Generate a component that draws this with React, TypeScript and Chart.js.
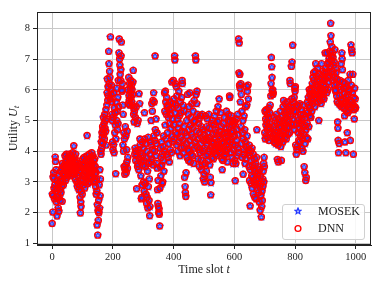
import React, { useEffect, useRef } from "react";
import { Chart, registerables } from "chart.js";

Chart.register(...registerables);

// Utility U_t per time slot, slots 0-99, 100-199, ...
const segA = [
  1.65, 2.6, 2.02, 3.16, 2.55, 3.3, 2.8, 3.1, 2.45, 2.9,
  3.81, 3.67, 2.7, 3.4, 2.35, 2.5, 1.89, 2.8, 3.05, 2.6,
  2.15, 2.9, 2.05, 2.5, 3.2, 2.75, 2.4, 3.0, 3.35, 2.65,
  3.1, 2.85, 3.45, 2.37, 3.6, 3.0, 3.25, 2.9, 3.5, 3.3,
  3.55, 3.2, 3.85, 3.4, 3.05, 3.65, 3.35, 3.9, 3.15, 3.5,
  3.7, 3.3, 3.45, 3.8, 3.6, 3.25, 3.55, 3.9, 3.4, 3.75,
  3.35, 3.65, 3.2, 3.85, 3.5, 3.3, 3.7, 3.45, 3.95, 3.6,
  3.25, 4.18, 3.55, 3.8, 3.4, 3.65, 3.1, 3.9, 3.35, 3.5,
  3.7, 3.0, 3.45, 2.85, 3.6, 3.2, 2.95, 3.5, 2.75, 3.3,
  2.9, 3.4, 2.5, 1.99, 2.34, 2.2, 2.7, 3.1, 3.55, 2.6,
];
const segB = [
  3.2, 3.75, 2.9, 3.5, 3.05, 3.8, 3.35, 2.8, 3.6, 3.15,
  3.45, 3.0, 3.7, 3.3, 3.85, 4.51, 3.25, 3.55, 2.95, 3.4,
  3.65, 3.1, 3.9, 3.35, 3.0, 3.75, 3.5, 3.2, 3.8, 3.45,
  3.95, 3.3, 3.6, 3.15, 3.85, 3.4, 3.7, 3.05, 3.55, 3.25,
  3.75, 3.0, 3.5, 2.85, 3.3, 2.6, 3.1, 2.7, 1.6, 2.26,
  1.27, 2.06, 1.75, 2.4, 2.0, 2.9, 2.15, 3.4, 2.55, 3.1,
  4.0, 3.9, 4.3, 4.1, 4.6, 4.45, 4.8, 4.25, 4.7, 5.1,
  4.55, 4.9, 4.4, 5.2, 4.75, 5.0, 4.65, 5.35, 4.2, 5.05,
  5.5, 5.9, 6.35, 5.65, 6.1, 5.8, 7.25, 6.85, 6.2, 6.6,
  6.4, 5.7, 7.72, 6.0, 5.85, 6.15, 5.6, 5.2, 5.0, 4.3,
];
const segC = [
  4.05, 5.1, 4.2, 5.9, 3.95, 5.4, 4.6, 5.25, 4.85, 3.27,
  4.4, 5.6, 5.0, 6.05, 5.3, 4.7, 5.75, 4.9, 6.3, 5.45,
  7.2, 7.65, 7.0, 6.8, 6.5, 6.3, 6.65, 7.1, 7.55, 6.0,
  5.95, 6.2, 5.5, 4.2, 5.2, 4.0, 4.6, 3.5, 4.4, 3.25,
  3.4, 4.8, 3.55, 4.5, 3.3, 4.05, 3.65, 4.65, 3.45, 3.8,
  6.0, 5.55, 6.4, 5.8, 5.65, 6.2, 5.5, 6.05, 5.9, 6.3,
  5.75, 6.15, 5.6, 6.0, 5.5, 5.85, 6.25, 6.63, 5.2, 5.4,
  4.95, 5.3, 3.9, 4.1, 5.1, 3.7, 4.0, 5.45, 2.78, 3.85,
  4.9, 3.5, 3.6, 5.0, 4.05, 3.4, 5.87, 3.75, 5.55, 4.4,
  4.2, 3.95, 3.2, 3.65, 2.45, 2.5, 2.9, 4.3, 3.85, 3.55,
];
const segD = [
  4.1, 3.0, 3.7, 2.7, 5.25, 4.4, 2.95, 3.5, 4.25, 2.6,
  3.8, 2.3, 4.0, 2.5, 3.35, 2.15, 4.45, 2.85, 3.6, 2.4,
  3.1, 1.9, 2.2, 3.9, 4.3, 3.65, 5.0, 4.2, 5.55, 3.75,
  5.3, 4.05, 5.65, 3.55, 5.9, 4.5, 5.6, 4.0, 4.35, 7.1,
  4.7, 3.85, 5.05, 4.25, 3.6, 4.6, 3.45, 2.75, 2.3, 3.05,
  2.2, 2.0, 2.12, 1.95, 1.57, 2.8, 3.5, 4.1, 3.2, 3.8,
  4.3, 3.55, 2.95, 3.9, 3.0, 4.15, 3.7, 4.5, 3.35, 4.0,
  5.9, 5.3, 4.85, 5.95, 5.6, 4.4, 5.2, 5.75, 3.9, 5.45,
  4.6, 5.5, 3.8, 5.1, 4.25, 5.35, 3.65, 4.9, 5.6, 4.05,
  5.2, 4.75, 5.4, 3.95, 6.25, 4.5, 5.05, 4.3, 5.55, 6.3,
];
const segE = [
  4.85, 5.7, 4.4, 7.1, 6.97, 5.25, 6.2, 4.6, 5.5, 6.1,
  4.2, 5.8, 4.55, 5.05, 4.0, 5.4, 4.75, 5.95, 4.3, 5.15,
  4.9, 3.85, 5.6, 4.45, 5.25, 4.1, 5.75, 4.65, 6.3, 6.2,
  4.35, 5.5, 3.95, 4.8, 5.3, 4.15, 3.15, 4.6, 2.85, 2.65,
  2.53, 3.3, 4.25, 5.0, 3.8, 4.5, 5.85, 4.05, 5.2, 3.7,
  4.7, 5.45, 4.0, 5.9, 4.35, 3.65, 4.85, 5.1, 3.9, 4.55,
  5.55, 4.2, 4.75, 3.85, 5.3, 4.45, 3.6, 4.95, 5.65, 4.1,
  5.0, 4.3, 7.1, 6.97, 5.85, 4.65, 5.55, 5.95, 4.15, 5.2,
  4.4, 3.75, 4.9, 4.05, 5.05, 3.5, 4.6, 3.95, 5.15, 4.25,
  3.7, 4.8, 3.4, 4.45, 5.2, 3.55, 4.0, 4.7, 3.1, 4.35,
];
const segF = [
  3.25, 4.55, 3.0, 4.1, 3.6, 5.15, 3.85, 4.4, 3.35, 4.8,
  4.2, 5.05, 3.9, 4.6, 3.7, 4.35, 5.2, 4.0, 4.75, 3.55,
  4.45, 3.15, 2.58, 2.98, 4.15, 4.9, 3.8, 4.3, 5.0, 4.05,
  4.55, 3.75, 4.25, 4.85, 4.0, 5.15, 4.4, 3.9, 4.7, 4.1,
  4.6, 5.3, 4.2, 3.85, 4.95, 4.3, 5.45, 4.05, 4.5, 5.0,
  5.7, 4.15, 4.65, 3.95, 4.4, 5.25, 4.0, 4.8, 4.25, 3.75,
  3.4, 4.55, 4.1, 3.7, 4.9, 4.3, 3.85, 4.6, 5.1, 4.0,
  4.45, 3.9, 4.75, 4.2, 5.3, 4.05, 4.6, 3.65, 4.35, 5.0,
  4.5, 5.2, 4.15, 4.8, 5.8, 5.75, 4.3, 4.95, 3.95, 4.6,
  5.15, 4.4, 3.8, 4.85, 4.2, 5.0, 3.6, 4.65, 4.05, 4.9,
];
const segG = [
  4.5, 3.7, 4.95, 3.04, 4.2, 3.6, 5.05, 4.35, 3.85, 4.7,
  4.1, 5.2, 4.55, 3.95, 7.65, 6.55, 7.52, 6.15, 6.5, 6.05,
  5.6, 6.2, 4.8, 5.85, 4.25, 5.3, 3.8, 4.6, 5.0, 3.25,
  4.4, 3.9, 5.15, 4.05, 4.7, 3.6, 4.3, 5.45, 3.75, 4.15,
  6.1, 5.5, 4.5, 5.95, 3.95, 6.15, 5.7, 4.05, 3.5, 4.2,
  3.05, 3.85, 2.22, 3.4, 4.0, 2.95, 3.7, 3.2, 4.1, 2.8,
  3.55, 3.15, 3.9, 2.6, 3.45, 3.0, 3.75, 2.5, 3.35, 2.9,
  3.6, 3.1, 2.45, 3.8, 4.7, 3.25, 2.75, 3.5, 2.95, 3.3,
  2.65, 3.05, 2.35, 3.4, 2.85, 2.08, 3.2, 2.55, 2.95, 1.86,
  2.2, 2.7, 2.4, 3.1, 2.85, 3.35, 3.6, 3.0, 3.8, 3.5,
];
const segH = [
  4.6, 5.3, 4.4, 5.05, 4.85, 5.35, 4.5, 4.95, 5.2, 4.7,
  4.45, 5.1, 4.8, 5.4, 4.35, 4.9, 5.25, 4.6, 5.5, 4.75,
  5.8, 6.2, 7.05, 6.75, 6.4, 5.95, 6.0, 5.85, 5.9, 4.55,
  4.8, 4.3, 5.1, 4.6, 4.4, 5.0, 4.25, 4.7, 4.5, 5.2,
  4.35, 4.9, 3.73, 4.6, 4.2, 3.65, 5.05, 4.45, 4.75, 4.3,
  4.95, 4.5, 5.3, 4.15, 4.8, 3.7, 4.4, 5.15, 4.65, 4.9,
  4.3, 5.45, 5.65, 4.7, 5.0, 4.45, 5.25, 4.85, 5.55, 4.6,
  5.1, 4.4, 5.35, 4.75, 5.6, 4.95, 5.2, 4.55, 5.45, 5.0,
  4.8, 5.3, 4.6, 6.3, 6.2, 5.15, 5.5, 4.9, 6.76, 5.7,
  6.9, 5.4, 7.45, 5.05, 5.6, 4.85, 5.3, 5.75, 4.7, 6.05,
];
const segI = [
  5.95, 6.1, 4.2, 5.3, 3.9, 4.9, 4.05, 5.5, 4.15, 5.1,
  4.6, 5.45, 4.35, 5.0, 4.75, 5.55, 4.3, 5.2, 4.5, 4.9,
  5.35, 4.65, 4.1, 5.05, 4.4, 5.5, 4.0, 4.8, 5.2, 4.55,
  3.5, 4.85, 3.3, 4.25, 5.1, 3.05, 4.7, 3.15, 4.45, 5.3,
  4.9, 5.6, 4.4, 5.25, 5.75, 4.8, 5.5, 6.0, 5.15, 5.85,
  5.4, 5.95, 5.1, 5.65, 6.05, 5.3, 5.8, 6.2, 5.55, 6.4,
  5.9, 6.55, 5.7, 6.3, 6.0, 5.45, 6.6, 5.85, 6.85, 6.15,
  5.75, 6.45, 5.95, 6.25, 5.6, 6.7, 5.85, 6.1, 5.0, 6.35,
  5.8, 6.5, 5.65, 6.05, 5.9, 6.2, 5.55, 6.85, 6.0, 5.75,
  6.4, 5.95, 6.6, 5.85, 6.15, 5.7, 6.3, 6.55, 6.0, 7.2,
];
const segJ = [
  6.35, 6.7, 6.1, 6.55, 5.9, 7.2, 6.4, 6.85, 6.0, 6.6,
  6.25, 6.9, 7.0, 6.45, 7.25, 6.75, 7.55, 8.16, 7.76, 7.1,
  6.95, 7.4, 6.6, 7.2, 6.3, 7.05, 6.5, 6.8, 6.15, 6.9,
  6.4, 7.3, 6.0, 6.7, 5.95, 6.55, 6.2, 5.8, 6.35, 5.6,
  4.95, 4.75, 4.35, 3.95, 5.55, 4.25, 6.1, 5.8, 6.3, 5.5,
  6.0, 5.65, 6.85, 5.45, 7.2, 7.0, 6.65, 5.7, 6.25, 5.55,
  6.05, 5.4, 5.9, 5.15, 4.3, 5.6, 6.2, 3.95, 5.75, 5.3,
  6.1, 5.5, 4.6, 5.85, 5.25, 6.3, 5.55, 5.95, 5.35, 6.0,
  5.65, 6.5, 4.35, 5.45, 7.46, 6.15, 7.3, 5.6, 7.2, 5.9,
  6.5, 5.5, 3.9, 5.75, 5.35, 5.05, 6.05, 5.45, 5.7, 5.4,
];

const mosekUtility = [...segA, ...segB, ...segC, ...segD, ...segE, ...segF, ...segG, ...segH, ...segI, ...segJ];
// The DNN tracks MOSEK so closely that the two are indistinguishable in the figure.
const dnnUtility = mosekUtility;

const xTicks = [0, 200, 400, 600, 800, 1000];
const yTicks = [1, 2, 3, 4, 5, 6, 7, 8];
const seriesNames = ["MOSEK", "DNN"];

const SERIF = '"Liberation Serif", "DejaVu Serif", serif';

function makeStar(color: string): HTMLCanvasElement {
  const c = document.createElement("canvas");
  c.width = 8;
  c.height = 8;
  const g = c.getContext("2d")!;
  const cx = 4, cy = 4.2, ro = 3.1, ri = 1.4;
  g.beginPath();
  for (let k = 0; k < 10; k++) {
    const r = k % 2 === 0 ? ro : ri;
    const a = -Math.PI / 2 + (k * Math.PI) / 5;
    const px = cx + r * Math.cos(a);
    const py = cy + r * Math.sin(a);
    if (k === 0) g.moveTo(px, py);
    else g.lineTo(px, py);
  }
  g.closePath();
  g.fillStyle = "rgba(60,90,255,0.35)";
  g.fill();
  g.strokeStyle = color;
  g.lineWidth = 1.2;
  g.stroke();
  return c;
}

export default function App() {
  const ref = useRef<HTMLCanvasElement | null>(null);

  useEffect(() => {
    document.body.style.margin = "0";
    const canvas = ref.current!;
    const star = makeStar("#2236ff");

    const frame = {
      id: "frameAndLabels",
      afterDraw(chart: any) {
        const { ctx, chartArea: a } = chart;
        ctx.save();
        ctx.strokeStyle = "#222";
        ctx.lineWidth = 1;
        ctx.strokeRect(Math.round(a.left) + 0.5, Math.round(a.top) + 0.5, Math.round(a.right - a.left) - 1, Math.round(a.bottom - a.top) - 1);

        // legend
        const bx = 282, by = 204, bw = 82, bh = 35;
        ctx.beginPath();
        (ctx as any).roundRect(bx + 0.5, by + 0.5, bw, bh, 2.5);
        ctx.fillStyle = "rgba(255,255,255,0.85)";
        ctx.fill();
        ctx.strokeStyle = "#d0d0d0";
        ctx.stroke();
        ctx.drawImage(star, 298 - 4, 211 - 4);
        ctx.beginPath();
        ctx.arc(298, 228.5, 2.9, 0, Math.PI * 2);
        ctx.strokeStyle = "#ff0000";
        ctx.lineWidth = 1.4;
        ctx.stroke();
        ctx.fillStyle = "#222";
        ctx.font = `12px ${SERIF}`;
        ctx.textBaseline = "middle";
        ctx.textAlign = "left";
        ctx.fillText(seriesNames[0], 318, 212);
        ctx.fillText(seriesNames[1], 318, 229);

        // x title: "Time slot t"
        const cx = (a.left + a.right) / 2;
        ctx.font = `12px ${SERIF}`;
        const p1 = "Time slot ";
        const w1 = ctx.measureText(p1).width;
        ctx.font = `italic 12px ${SERIF}`;
        const w2 = ctx.measureText("t").width;
        let sx = cx - (w1 + w2) / 2;
        ctx.font = `12px ${SERIF}`;
        ctx.fillText(p1, sx, 270);
        ctx.font = `italic 12px ${SERIF}`;
        ctx.fillText("t", sx + w1, 270);

        // y title: "Utility U_t"
        ctx.translate(14, (a.top + a.bottom) / 2);
        ctx.rotate(-Math.PI / 2);
        ctx.font = `12px ${SERIF}`;
        const q1 = "Utility ";
        const v1 = ctx.measureText(q1).width;
        ctx.font = `italic 12px ${SERIF}`;
        const v2 = ctx.measureText("U").width;
        ctx.font = `italic 9px ${SERIF}`;
        const v3 = ctx.measureText("t").width;
        sx = -(v1 + v2 + v3) / 2;
        ctx.font = `12px ${SERIF}`;
        ctx.fillText(q1, sx, 0);
        ctx.font = `italic 12px ${SERIF}`;
        ctx.fillText("U", sx + v1, 0);
        ctx.font = `italic 9px ${SERIF}`;
        ctx.fillText("t", sx + v1 + v2, 3);
        ctx.restore();
      },
    };

    const chart = new Chart(canvas, {
      type: "scatter",
      data: {
        datasets: [
          {
            label: seriesNames[0],
            data: mosekUtility.map((v, i) => ({ x: i, y: v })),
            pointStyle: star as any,
            pointRadius: 3,
            order: 2,
          },
          {
            label: seriesNames[1],
            data: dnnUtility.map((v, i) => ({ x: i, y: v })),
            pointStyle: "circle",
            pointRadius: 3,
            borderWidth: 1.4,
            borderColor: "#ff0000",
            backgroundColor: "rgba(0,0,0,0)",
            order: 1,
          },
        ],
      },
      options: {
        animation: false,
        responsive: false,
        devicePixelRatio: 1,
        layout: { padding: { top: 12, right: 13, left: 0, bottom: 0 } },
        plugins: { legend: { display: false }, tooltip: { enabled: false } },
        scales: {
          x: {
            type: "linear",
            min: -50,
            max: 1050,
            afterBuildTicks: (s: any) => {
              s.ticks = xTicks.map((v) => ({ value: v }));
            },
            afterFit: (s: any) => {
              s.height = 43;
            },
            grid: { color: "#c8c8c8", lineWidth: 1, tickColor: "#222", tickLength: 4 },
            border: { display: true, color: "#222", width: 1 },
            ticks: {
              color: "#222",
              font: { family: SERIF, size: 10.5 },
              padding: 2,
              maxRotation: 0,
              callback: (v: any) => String(v),
            },
          },
          y: {
            type: "linear",
            min: 0.95,
            max: 8.53,
            afterBuildTicks: (s: any) => {
              s.ticks = yTicks.map((v) => ({ value: v }));
            },
            afterFit: (s: any) => {
              s.width = 37;
            },
            grid: { color: "#c8c8c8", lineWidth: 1, tickColor: "#222", tickLength: 4 },
            border: { display: true, color: "#222", width: 1 },
            ticks: { color: "#222", font: { family: SERIF, size: 10.5 }, padding: 3, callback: (v: any) => String(v) },
          },
        },
      },
      plugins: [frame],
    });
    return () => chart.destroy();
  }, []);

  return <canvas ref={ref} width={384} height={288} style={{ display: "block" }} />;
}
